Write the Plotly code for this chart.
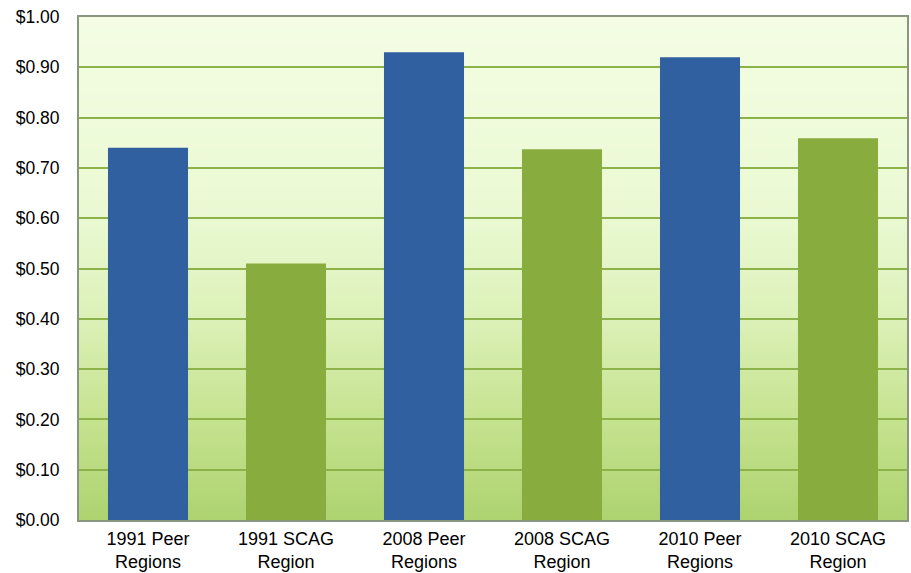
import zlib, struct, base64
import plotly.graph_objects as go

categories = ["1991 Peer<br>Regions", "1991 SCAG<br>Region", "2008 Peer<br>Regions",
              "2008 SCAG<br>Region", "2010 Peer<br>Regions", "2010 SCAG<br>Region"]
values = [0.74, 0.51, 0.93, 0.737, 0.92, 0.759]
bar_colors = ["#30609F", "#89AC3F", "#30609F", "#89AC3F", "#30609F", "#89AC3F"]
y_ticks = [i / 10 for i in range(11)]
y_ticktext = ["$%.2f" % v for v in y_ticks]

bg_stops = [(0.0, (244, 253, 228)), (0.4, (234, 249, 210)), (0.6, (220, 241, 184)),
            (0.8, (198, 227, 144)), (1.0, (174, 211, 112))]


def gradient_png(stops, n=256):
    rows = b""
    for i in range(n):
        t = i / (n - 1)
        for j in range(len(stops) - 1):
            t0, c0 = stops[j]
            t1, c1 = stops[j + 1]
            if t0 <= t <= t1:
                f = (t - t0) / (t1 - t0)
                px = bytes(int(round(c0[k] + (c1[k] - c0[k]) * f)) for k in range(3))
                break
        rows += b"\x00" + px
    def chunk(tag, data):
        c = tag + data
        return struct.pack(">I", len(data)) + c + struct.pack(">I", zlib.crc32(c) & 0xFFFFFFFF)
    png = b"\x89PNG\r\n\x1a\n"
    png += chunk(b"IHDR", struct.pack(">IIBBBBB", 1, n, 8, 2, 0, 0, 0))
    png += chunk(b"IDAT", zlib.compress(rows))
    png += chunk(b"IEND", b"")
    return "data:image/png;base64," + base64.b64encode(png).decode()


bg = gradient_png(bg_stops)

fig = go.Figure()
fig.add_trace(go.Bar(
    x=categories, y=values,
    marker=dict(color=bar_colors, line=dict(width=0)),
    width=0.58,
))

fig.update_layout(
    width=911, height=573,
    margin=dict(l=79, r=4, t=17, b=53),
    paper_bgcolor="white",
    plot_bgcolor="rgba(0,0,0,0)",
    showlegend=False,
    font=dict(family="Liberation Sans, Arial, sans-serif", color="#000000"),
    images=[dict(source=bg, xref="paper", yref="paper", x=0, y=1, sizex=1, sizey=1,
                 sizing="stretch", layer="below", xanchor="left", yanchor="top")],
)
fig.update_yaxes(
    range=[0, 1.0], tickvals=y_ticks, ticktext=y_ticktext,
    showgrid=True, gridcolor="#8DB24A", gridwidth=1.5,
    showline=True, linecolor="#8A9680", linewidth=2, mirror=True,
    ticks="", tickfont=dict(size=17.5), ticklabelstandoff=14,
    zeroline=False, automargin=False,
)
fig.update_xaxes(
    showline=True, linecolor="#8A9680", linewidth=2, mirror=True,
    ticks="", tickfont=dict(size=18), showgrid=False, ticklabelstandoff=1,
    automargin=False,
)
fig.write_html("out.html")
